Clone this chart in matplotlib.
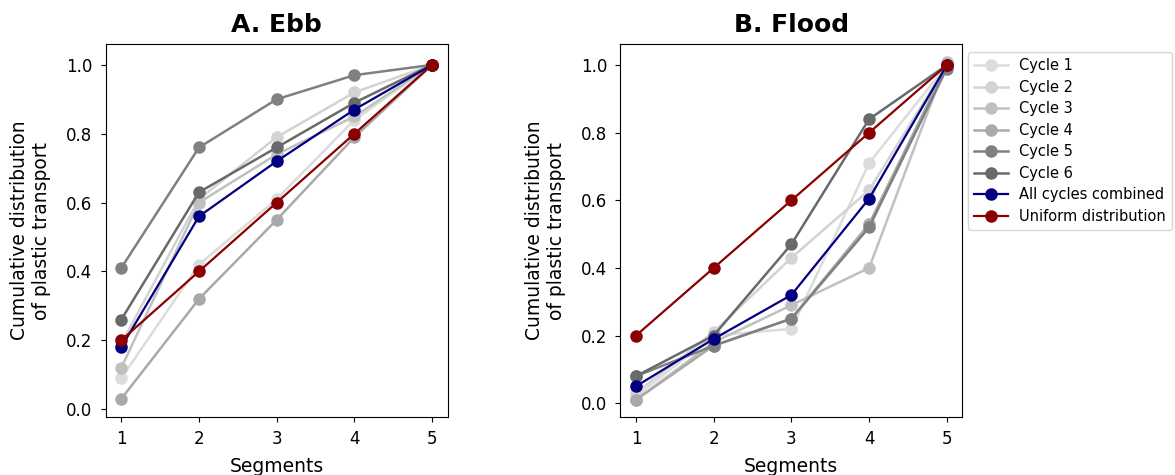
import numpy as np
import matplotlib
matplotlib.use("Agg")
import matplotlib.pyplot as plt

segments = [1, 2, 3, 4, 5]
cycle_names = ["Cycle 1", "Cycle 2", "Cycle 3", "Cycle 4", "Cycle 5", "Cycle 6"]
cycle_colors = ["gainsboro", "lightgray", "silver", "darkgray", "gray", "dimgray"]

ebb_cycles = [
    [0.09, 0.42, 0.61, 0.84, 1.0],
    [0.19, 0.61, 0.79, 0.92, 1.0],
    [0.12, 0.60, 0.74, 0.85, 1.0],
    [0.03, 0.32, 0.55, 0.79, 1.0],
    [0.41, 0.76, 0.90, 0.97, 1.0],
    [0.26, 0.63, 0.76, 0.89, 1.0],
]
ebb_all = [0.18, 0.56, 0.72, 0.87, 1.0]

flood_cycles = [
    [0.02, 0.20, 0.22, 0.71, 1.0],
    [0.03, 0.21, 0.43, 0.63, 1.0],
    [0.01, 0.18, 0.29, 0.40, 1.01],
    [0.01, 0.17, 0.25, 0.53, 1.0],
    [0.08, 0.17, 0.25, 0.52, 0.99],
    [0.08, 0.20, 0.47, 0.84, 1.0],
]
flood_all = [0.05, 0.19, 0.32, 0.605, 1.0]

uniform = [0.2, 0.4, 0.6, 0.8, 1.0]

fig = plt.figure(figsize=(11.75, 4.75), dpi=100)
ax1 = fig.add_axes([0.09, 0.122, 0.291, 0.785])
ax2 = fig.add_axes([0.528, 0.122, 0.291, 0.785])

def draw(ax, cycles, combined, title, ylim):
    for vals, name, col in zip(cycles, cycle_names, cycle_colors):
        ax.plot(segments, vals, "-o", color=col, markersize=8, linewidth=1.8, label=name)
    ax.plot(segments, combined, "-o", color="navy", markersize=8, linewidth=1.6,
            label="All cycles combined")
    ax.plot(segments, uniform, "-o", color="darkred", markersize=8, linewidth=1.6,
            label="Uniform distribution")
    ax.set_title(title, fontsize=18, fontweight="bold", pad=8.5)
    ax.set_xlabel("Segments", fontsize=13.5, labelpad=6)
    ax.set_ylabel("Cumulative distribution\nof plastic transport", fontsize=13.5,
                  labelpad=11)
    ax.set_xticks(segments)
    ax.set_ylim(*ylim)
    ax.tick_params(labelsize=12, pad=6)

draw(ax1, ebb_cycles, ebb_all, "A. Ebb", (-0.023, 1.06))
draw(ax2, flood_cycles, flood_all, "B. Flood", (-0.041, 1.062))
ax2.legend(loc="upper left", bbox_to_anchor=(1.005, 0.99), fontsize=10.5,
           handlelength=2.3, borderaxespad=0.3, labelspacing=0.45)

fig.savefig("out.png", dpi=100)
